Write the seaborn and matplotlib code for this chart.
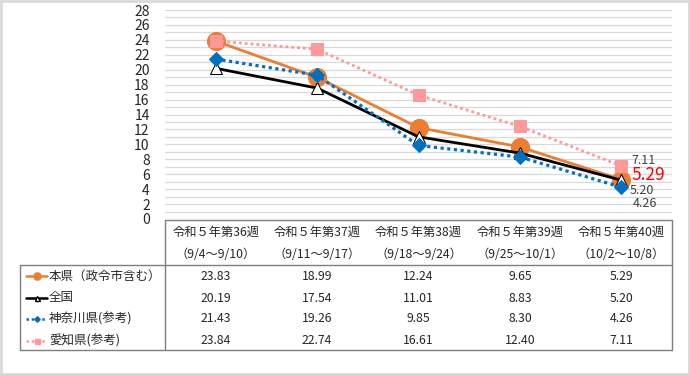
import numpy as np
import pandas as pd
import matplotlib
matplotlib.use("Agg")
import matplotlib.pyplot as plt
from matplotlib.lines import Line2D
from matplotlib.patches import Rectangle
from matplotlib.ticker import MultipleLocator
import seaborn as sns

# data
weeks = ["令和５年第36週", "令和５年第37週", "令和５年第38週", "令和５年第39週", "令和５年第40週"]
periods = ["（9/4～9/10）", "（9/11～9/17）", "（9/18～9/24）", "（9/25～10/1）", "（10/2～10/8）"]
series_names = ["本県（政令市含む）", "全国", "神奈川県(参考)", "愛知県(参考)"]
honken = [23.83, 18.99, 12.24, 9.65, 5.29]
zenkoku = [20.19, 17.54, 11.01, 8.83, 5.20]
kanagawa = [21.43, 19.26, 9.85, 8.30, 4.26]
aichi = [23.84, 22.74, 16.61, 12.40, 7.11]

sns.set_theme(style="white")
plt.rcParams['font.family'] = ['Noto Sans CJK JP', 'DejaVu Sans']

W, H = 690, 375
fig = plt.figure(figsize=(W / 100, H / 100), dpi=100)
fig.patch.set_facecolor("white")

def fx(px):
    return px / W

def fy(py):
    return 1 - py / H

left, right, top, bottom = 165, 672, 10, 219
ax = fig.add_axes([fx(left), fy(bottom), fx(right - left), (bottom - top) / H])
ax.set_facecolor("white")

x = np.arange(len(weeks))
dot = (0, (1, 1.1))
styles = [
    dict(data=honken, color="#ED7D31", marker="o", ms=13, mfc="#ED7D31", mec="#ED7D31", ls="-", lw=2.0, cap="round"),
    dict(data=zenkoku, color="black", marker="^", ms=9, mfc="white", mec="black", ls="-", lw=2.0, cap="round"),
    dict(data=kanagawa, color="#0070C0", marker="D", ms=7, mfc="#0070C0", mec="#0070C0", ls=dot, lw=2.3, cap="butt"),
    dict(data=aichi, color="#FF9999", marker="s", ms=9, mfc="#FF9999", mec="#FF9999", ls=dot, lw=2.0, cap="butt"),
]
for s in styles:
    sns.lineplot(x=x, y=s["data"], ax=ax, color=s["color"], marker=s["marker"], markersize=s["ms"],
                 markerfacecolor=s["mfc"], markeredgecolor=s["mec"], linestyle=s["ls"],
                 linewidth=s["lw"], dash_capstyle=s["cap"], legend=False)

ax.set_xlim(-0.5, len(weeks) - 0.5)
ax.set_ylim(0, 28)
ax.yaxis.set_major_locator(MultipleLocator(2))
ax.yaxis.set_minor_locator(MultipleLocator(1))
ax.grid(True, which="both", axis="y", color="#D9D9D9", linewidth=0.9)
ax.set_axisbelow(True)
ax.set_xticks([])
ax.tick_params(axis="y", length=0, labelsize=10, pad=11, colors="#262626")
for sp in ax.spines.values():
    sp.set_visible(False)

# end labels
last = len(weeks) - 1
ax.annotate(f"{aichi[-1]:.2f}", (last, aichi[-1]), xytext=(7, 4), textcoords="offset points",
            fontsize=9, color="#404040", va="center", ha="left")
ax.annotate(f"{honken[-1]:.2f}", (last, honken[-1]), xytext=(7, 3), textcoords="offset points",
            fontsize=12.5, color="#FF0000", va="center", ha="left")
ax.annotate(f"{zenkoku[-1]:.2f}", (last, zenkoku[-1]), xytext=(6, -7.5), textcoords="offset points",
            fontsize=9, color="#404040", va="center", ha="left")
ax.annotate(f"{kanagawa[-1]:.2f}", (last, kanagawa[-1]), xytext=(8, -12), textcoords="offset points",
            fontsize=9, color="#404040", va="center", ha="left")

# data table
tc = "#7F7F7F"
def hline(y, x0, x1):
    fig.add_artist(Line2D([fx(x0), fx(x1)], [fy(y), fy(y)], color=tc, lw=1))

def vline(xp, y0, y1):
    fig.add_artist(Line2D([fx(xp), fx(xp)], [fy(y0), fy(y1)], color=tc, lw=1))

hline(219.5, left, right)
hline(265, 20, right)
hline(350, 20, right)
vline(20, 265, 350)
vline(left, 219.5, 350)
vline(right, 219.5, 350)

colw = (right - left) / len(weeks)
fs = 8.8
for i in range(len(weeks)):
    cx = left + colw * (i + 0.5)
    fig.text(fx(cx), fy(232), weeks[i], ha="center", va="center", fontsize=fs, color="#262626")
    fig.text(fx(cx), fy(255), periods[i], ha="center", va="center", fontsize=fs, color="#262626")

row_y = [276, 298, 319, 341]
all_vals = [honken, zenkoku, kanagawa, aichi]
for r, (name, vals, s) in enumerate(zip(series_names, all_vals, styles)):
    y = row_y[r]
    for i, v in enumerate(vals):
        cx = left + colw * (i + 0.5)
        fig.text(fx(cx), fy(y), f"{v:.2f}", ha="center", va="center", fontsize=fs, color="#262626")
    fig.text(fx(49), fy(y), name, ha="left", va="center", fontsize=9, color="#262626")
    fig.add_artist(Line2D([fx(26), fx(47)], [fy(y), fy(y)], color=s["color"],
                          linestyle=s["ls"], lw=1.8, dash_capstyle=s["cap"]))
    fig.add_artist(Line2D([fx(37)], [fy(y)], marker=s["marker"], markersize=s["ms"] * 0.4,
                          markerfacecolor=s["mfc"], markeredgecolor=s["mec"], linestyle="none"))

# outer border
fig.add_artist(Rectangle((0.002, 0.003), 0.996, 0.994, transform=fig.transFigure,
                         fill=False, edgecolor="#D9D9D9", lw=2))

fig.savefig("out.png", dpi=100)
